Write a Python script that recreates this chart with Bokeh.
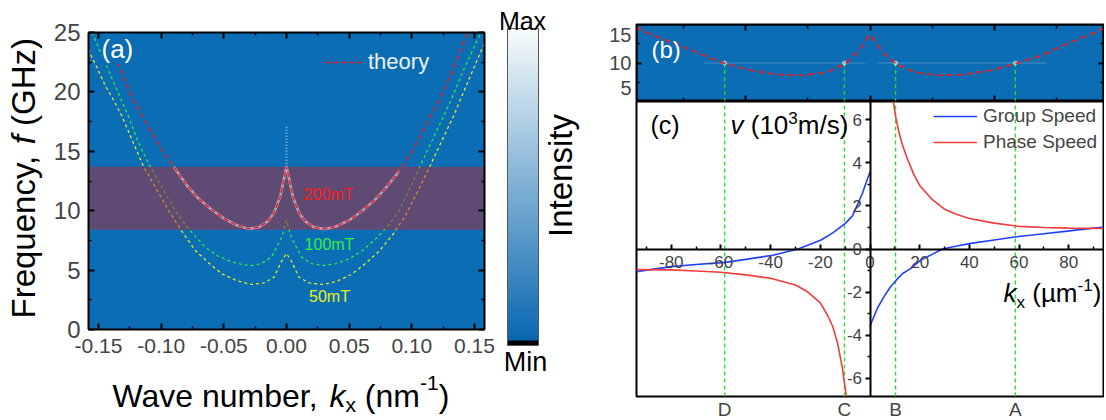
import numpy as np
from bokeh.plotting import figure
from bokeh.models import (Range1d, LinearAxis, FixedTicker, Label, Legend, LegendItem,
                          LinearColorMapper, PrintfTickFormatter)
from bokeh.layouts import row, column
from bokeh.embed import file_html
from bokeh.resources import INLINE
from bokeh.core.properties import value

# ---------------- data: panel (a) ----------------
k200 = [-0.1446, -0.140, -0.130, -0.120, -0.110, -0.100, -0.090, -0.080, -0.070, -0.060, -0.050,
        -0.040, -0.030, -0.022, -0.015, -0.010, -0.005, 0.0, 0.005, 0.010, 0.015, 0.022, 0.031,
        0.040, 0.050, 0.060, 0.070, 0.080, 0.090, 0.100, 0.110, 0.120, 0.130, 0.140, 0.1446]
f200 = [25.0, 23.8, 21.2, 18.9, 17.0, 15.2, 13.7, 12.2, 11.0, 10.1, 9.35,
        8.78, 8.47, 8.6, 9.1, 9.8, 11.2, 13.7, 11.2, 9.8, 9.1, 8.6, 8.45,
        8.7, 9.2, 9.95, 10.85, 12.0, 13.35, 14.9, 17.0, 18.9, 21.2, 23.8, 25.0]

k100 = [-0.1551, -0.147, -0.140, -0.133, -0.126, -0.118, -0.1087, -0.100, -0.0888, -0.080,
        -0.0649, -0.055, -0.045, -0.035, -0.0277, -0.020, -0.012, -0.0037, 0.0, 0.0037, 0.012,
        0.020, 0.0293, 0.040, 0.050, 0.060, 0.070, 0.080, 0.090, 0.098, 0.1063, 0.118, 0.130,
        0.142, 0.1551]
f100 = [25.0, 23.0, 21.3, 19.6, 17.9, 15.7, 13.7, 12.1, 10.0, 8.7,
        6.93, 6.2, 5.75, 5.45, 5.39, 5.55, 6.1, 7.77, 9.2, 7.77, 6.1,
        5.55, 5.39, 5.55, 5.95, 6.6, 7.5, 8.6, 10.0, 11.8, 13.7, 16.3, 19.0,
        22.0, 25.0]

k50 = [-0.158, -0.1566, -0.151, -0.145, -0.138, -0.131, -0.123, -0.114, -0.104, -0.094, -0.083,
       -0.0728, -0.062, -0.0516, -0.040, -0.0277, -0.018, -0.010, -0.0037, 0.0, 0.0037, 0.010,
       0.018, 0.0293, 0.040, 0.052, 0.063, 0.074, 0.085, 0.095, 0.105, 0.1143, 0.124, 0.133,
       0.145, 0.1555, 0.158]
f50 = [23.6, 23.2, 22.0, 20.6, 19.3, 17.9, 15.9, 13.7, 11.85, 10.0, 8.2,
       6.65, 5.6, 4.69, 4.12, 3.79, 3.92, 4.4, 5.8, 6.4, 5.8, 4.4,
       3.92, 3.79, 4.05, 4.65, 5.55, 6.6, 8.0, 9.6, 11.7, 13.7, 15.9, 17.9,
       20.9, 23.5, 24.1]

band_f = [8.4, 13.7]              # excitation band (GHz)
spike_k = [0.0, 0.0]
spike_f = [13.7, 17.2]
field_labels = ["200mT", "100mT", "50mT"]
field_label_k = [0.0335, 0.0343, 0.0343]
field_label_f = [11.36, 7.15, 2.78]
field_colors = ["#FF1A1A", "#33F040", "#EEEE22"]

a_xticks = [-0.15, -0.10, -0.05, 0.0, 0.05, 0.10, 0.15]
a_xminor = [-0.125, -0.075, -0.025, 0.025, 0.075, 0.125]
a_yticks = [0, 5, 10, 15, 20, 25]
a_yminor = [2.5, 7.5, 12.5, 17.5, 22.5]
a_xlim = (-0.158, 0.158)
a_ylim = (0, 25)

# ---------------- data: panel (b) ----------------
kb = [-94, -88, -80, -73, -66.8, -58.1, -48.1, -37.3, -26.6, -17.3, -9.9, -4.5, 0,
      5.7, 10.4, 17.8, 27.2, 37.9, 48.6, 58.6, 70, 80, 88, 94]
fb = [14.6, 13.7, 12.7, 11.8, 11.0, 9.9, 9.05, 8.5, 8.4, 8.8, 9.9, 11.6, 13.7,
      11.2, 9.9, 8.8, 8.4, 8.5, 9.05, 9.9, 11.1, 12.6, 13.6, 14.5]
meas_f = 10.0
meas_k0 = [-67, 3]
meas_k1 = [-2, 71]
cross_k = [-58.5, -10.3, 10.3, 58.5]
cross_labels = ["D", "C", "B", "A"]
b_ylim = (5, 15)
b_yticks = [5, 10, 15]
b_yminor = [7.5, 12.5]
b_label_pos = [6.7, 10, 13.7]      # where the tick texts sit (kept inside the strip)
b_label_text = ["5", "10", "15"]
b_xticks = [-50, 0, 50]
b_xminor = [-75, -25, 25, 75]
bc_xlim = (-94, 94)

# ---------------- data: panel (c) ----------------
kg_neg = [-94, -80, -70, -58.1, -50, -39.1, -29, -24.5, -19.7, -15, -9.9, -7, -4.9, -3, -1.5, 0]
vg_neg = [-1.05, -0.82, -0.72, -0.62, -0.48, -0.29, 0.0, 0.2, 0.42, 0.75, 1.19, 1.55, 2.1, 2.6, 3.1, 3.58]
kg_pos = [0, 1, 3, 5.7, 8, 10.4, 13, 16.5, 20.5, 25, 29.2, 35, 40.6, 50, 58.9, 70, 79.4, 94]
vg_pos = [-3.6, -3.3, -2.75, -2.2, -1.8, -1.47, -1.15, -0.9, -0.51, -0.25, 0.0, 0.14, 0.26, 0.42,
          0.57, 0.71, 0.83, 1.02]
kp_pos = [9.4, 10.4, 11.5, 13, 15, 17.5, 20, 25, 30, 35, 40, 50, 60, 70, 80, 94]
vp_pos = [6.85, 6.1, 5.5, 4.85, 4.2, 3.5, 2.95, 2.3, 1.85, 1.6, 1.42, 1.2, 1.05, 1.0, 0.97, 0.96]
kp_neg = [-94, -80, -70, -60, -50, -40, -30, -25, -20, -17, -15, -13, -12, -11, -10.2, -9.5]
vp_neg = [-0.96, -0.97, -1.02, -1.08, -1.2, -1.36, -1.67, -2.0, -2.5, -3.1, -3.6, -4.4, -5.0, -5.6,
          -6.3, -6.85]
c_ylim = (-6.85, 6.85)
c_yticks = [-6, -4, -2, 0, 2, 4, 6]
c_yminor = [-5, -3, -1, 1, 3, 5]
c_xticks = [-80, -60, -40, -20, 0, 20, 40, 60, 80]
c_xminor = [-90, -70, -50, -30, -10, 10, 30, 50, 70, 90]

# ---------------- style ----------------
FONT = "Liberation Sans"
BG = "#0B6DB3"
H = 418
BASE = 0.34     # label anchor sits ~0.34 em above the glyph baseline


def mix(c1, c2, t):
    a = [int(c1[i:i + 2], 16) for i in (1, 3, 5)]
    b = [int(c2[i:i + 2], 16) for i in (1, 3, 5)]
    return "#%02x%02x%02x" % tuple(int(round(a[j] + (b[j] - a[j]) * t)) for j in range(3))


def lab(p, text, x, y, size, color="black", style="normal", angle=0.0, align="left", bg=None):
    # (x, y): wanted baseline start, screen px from frame bottom-left
    if angle == 0.0:
        y = y + BASE * size
    else:
        x = x - BASE * size
    p.add_layout(Label(x=x, y=y, x_units="screen", y_units="screen", text=text,
                       text_font=FONT, text_font_size=f"{size}px", text_color=color,
                       text_font_style=style, angle=angle, text_align=align,
                       text_baseline="alphabetic", background_fill_color=bg))


def mk_axis(ticks, minor, tin=0, tout=0, min_in=0, min_out=0, size=None, standoff=5,
            fixed=None, fmt=None, bounds=None):
    kw = dict(ticker=FixedTicker(ticks=ticks, minor_ticks=minor),
              major_tick_in=tin, major_tick_out=tout, minor_tick_in=min_in, minor_tick_out=min_out,
              axis_line_width=2, major_tick_line_width=2, minor_tick_line_width=1.5,
              major_label_standoff=standoff, major_label_text_font=FONT)
    if size is None:
        kw["major_label_text_color"] = None
        kw["major_label_text_font_size"] = "0px"
        kw["major_label_standoff"] = 0
    else:
        kw["major_label_text_font_size"] = f"{size}px"
    if fixed is not None:
        kw["fixed_location"] = fixed
    if fmt is not None:
        kw["formatter"] = PrintfTickFormatter(format=fmt)
    if bounds is not None:
        kw["bounds"] = bounds
    return LinearAxis(**kw)


# ---------------- panel (a): whole canvas is the frame, plot box drawn inside ----------------
WA = 500
L, R, T, B = 88, 484, 32, 329          # plot box in canvas pixels
sx = (R - L) / (a_xlim[1] - a_xlim[0])
sy = (B - T) / (a_ylim[1] - a_ylim[0])
pa = figure(width=WA, height=H,
            x_range=Range1d(a_xlim[0] - L / sx, a_xlim[1] + (WA - R) / sx),
            y_range=Range1d(a_ylim[0] - (H - B) / sy, a_ylim[1] + T / sy),
            x_axis_type=None, y_axis_type=None, toolbar_location=None, output_backend="svg",
            min_border=0, outline_line_color=None)

pa.quad(left=a_xlim[0], right=a_xlim[1], bottom=a_ylim[0], top=a_ylim[1],
        fill_color=BG, line_color=None)
pa.line(k50, f50, color="#E8E82A", line_width=1.3, line_dash="3 3")
pa.line(k100, f100, color="#2EE84A", line_width=1.3, line_dash="3 3")
pa.quad(left=a_xlim[0], right=a_xlim[1], bottom=band_f[0], top=band_f[1],
        fill_color="#C31F26", fill_alpha=0.45, line_color=None)
in_k = [k for k, f in zip(k200, f200) if f <= band_f[1]]
in_f = [f for k, f in zip(k200, f200) if f <= band_f[1]]
pa.line(in_k, in_f, color="#FFE8EE", alpha=0.55, line_width=2.6)
pa.line(spike_k, spike_f, color="white", alpha=0.55, line_width=2, line_dash="1 2")
red_a = pa.line(k200, f200, color="#E8222A", line_width=1.5, line_dash="5 3")
pa.text(x=field_label_k, y=field_label_f, text=field_labels, text_color=field_colors,
        text_font=value(FONT), text_font_size=value("16px"), text_align="center",
        text_baseline="middle")

pa.add_layout(mk_axis(a_yticks, a_yminor, tin=6, min_in=3, size=24, standoff=8,
                      fixed=a_xlim[0], bounds=a_ylim), "left")
pa.add_layout(mk_axis(a_yticks, a_yminor, tin=6, min_in=3, fixed=a_xlim[1], bounds=a_ylim), "right")
pa.add_layout(mk_axis(a_xticks, a_xminor, tin=6, min_in=3, size=21, standoff=9, fmt="%.2f",
                      fixed=a_ylim[0], bounds=a_xlim), "below")
pa.add_layout(mk_axis(a_xticks, a_xminor, tin=6, min_in=3, fixed=a_ylim[1], bounds=a_xlim), "above")

leg_a = Legend(items=[LegendItem(label="theory", renderers=[red_a])], location=(325, H - 75),
               background_fill_alpha=0, border_line_alpha=0, label_text_color="#EAF2FA",
               label_text_font=FONT, label_text_font_size="22px", glyph_width=37,
               glyph_height=24, label_height=24, label_standoff=6, padding=0, margin=0)
pa.add_layout(leg_a)

lab(pa, "(a)", 101, H - 57, 26, color="white", bg=BG)
# y-axis title: Frequency, f (GHz)   (rotated, reading upwards)
s = 33 / 1000.0
y0 = H - 318
lab(pa, "Frequency,", 34, y0, 33, angle=np.pi / 2)
lab(pa, "f", 34, y0 + 5280 * s, 33, style="italic", angle=np.pi / 2)
lab(pa, "(GHz)", 34, y0 + (5280 + 556) * s, 33, angle=np.pi / 2)
# x-axis title: Wave number, k_x (nm^-1)
s = 32 / 1000.0
yb = H - 406
x0 = 112
lab(pa, "Wave number,", x0, yb, 32)
xk = x0 + 6780 * s
lab(pa, "k", xk, yb, 32, style="italic")
xs = xk + 500 * s
lab(pa, "x", xs, yb - 5, 21)
xn = xs + 500 * 0.021 + 278 * s
lab(pa, "(nm", xn, yb, 32)
xe = xn + 1722 * s
lab(pa, "-1", xe, yb + 16, 21)
lab(pa, ")", xe + 889 * 0.021, yb, 32)

# ---------------- colour bar (canvas-pixel coordinates) ----------------
WC = 95
pcb = figure(width=WC, height=H, x_range=Range1d(0, WC), y_range=Range1d(0, H),
             x_axis_type=None, y_axis_type=None, toolbar_location=None, output_backend="svg",
             min_border=0, outline_line_color=None)
ncol = 64
pal = ["#000000"] + [mix("#0B68B0", "#F5FAFA", i / (ncol - 2)) for i in range(ncol - 1)]
levels = np.linspace(0, 1, ncol).reshape(ncol, 1)
cb_x, cb_w, cb_y, cb_h = 7, 31, H - 345, 317
pcb.image(image=[levels], x=cb_x, y=cb_y, dw=cb_w, dh=cb_h,
          color_mapper=LinearColorMapper(palette=pal, low=0, high=1))
pcb.quad(left=cb_x, right=cb_x + cb_w, bottom=cb_y, top=cb_y + cb_h, fill_color=None,
         line_color="#555555", line_width=1)
lab(pcb, "Max", 22, H - 28.5, 25, align="center")
lab(pcb, "Min", 25, H - 371, 27, align="center")
lab(pcb, "Intensity", 71, H - 175, 33, angle=np.pi / 2, align="center")

# ---------------- panel (b) ----------------
xr = Range1d(*bc_xlim)
pb = figure(frame_width=467, frame_height=77, x_range=xr, y_range=Range1d(*b_ylim),
            x_axis_type=None, y_axis_type=None, toolbar_location=None, output_backend="svg",
            min_border_left=41, min_border_right=1, min_border_top=24, min_border_bottom=0,
            background_fill_color=BG, outline_line_color="black", outline_line_width=2)
pb.segment(x0=meas_k0, x1=meas_k1, y0=meas_f, y1=meas_f, color="white", alpha=0.12, line_width=2)
pb.segment(x0=cross_k, x1=cross_k, y0=meas_f, y1=b_ylim[0], color="#22E022", line_width=1.3,
           line_dash="4 3")
pb.scatter(cross_k, [meas_f] * len(cross_k), size=4, color="white", alpha=0.45)
pb.line(kb, fb, color="#E8222A", line_width=1.8, line_dash="6 4")
pb_labels = LinearAxis(ticker=FixedTicker(ticks=b_label_pos, minor_ticks=[]),
                       major_label_overrides={p_: t for p_, t in zip(b_label_pos, b_label_text)},
                       major_tick_in=0, major_tick_out=0, minor_tick_in=0, minor_tick_out=0,
                       axis_line_color=None, major_tick_line_color=None,
                       major_label_standoff=5, major_label_text_font=FONT,
                       major_label_text_font_size="20px")
pb.add_layout(pb_labels, "left")
pb.add_layout(mk_axis(b_yticks, b_yminor, tin=5, min_in=3, fixed=bc_xlim[0]), "left")
pb.add_layout(mk_axis(b_yticks, b_yminor, tin=5, min_in=3, fixed=bc_xlim[1]), "right")
pb.add_layout(mk_axis(b_xticks, b_xminor, tin=6, min_in=4, fixed=b_ylim[1]), "above")
pb.add_layout(mk_axis(b_xticks, b_xminor, tin=6, min_in=4, fixed=b_ylim[0]), "below")
lab(pb, "(b)", 15, 44, 24, color="white")

# ---------------- panel (c) ----------------
pc = figure(frame_width=467, frame_height=295, x_range=xr, y_range=Range1d(*c_ylim),
            x_axis_type=None, y_axis_type=None, toolbar_location=None, output_backend="svg",
            min_border_left=41, min_border_right=1, min_border_top=0, min_border_bottom=20,
            outline_line_color="black", outline_line_width=2)
pc.segment(x0=cross_k, x1=cross_k, y0=c_ylim[0], y1=c_ylim[1], color="#22E022", line_width=1.3,
           line_dash="4 3")
g1 = pc.line(kg_neg, vg_neg, color="#2040FF", line_width=1.6)
pc.line(kg_pos, vg_pos, color="#2040FF", line_width=1.6)
r1 = pc.line(kp_pos, vp_pos, color="#F03C3C", line_width=1.6)
pc.line(kp_neg, vp_neg, color="#F03C3C", line_width=1.6)
pc.add_layout(mk_axis(c_yticks, c_yminor, tout=5, min_out=3, size=17, standoff=3, fixed=0,
                      fmt="%d"), "left")
pc.add_layout(mk_axis(c_xticks, c_xminor, tin=5, min_in=3, size=17, standoff=7, fixed=0,
                      fmt="%d"), "below")
letters = LinearAxis(ticker=FixedTicker(ticks=cross_k, minor_ticks=[]),
                     major_label_overrides={k: t for k, t in zip(cross_k, cross_labels)},
                     major_tick_in=0, major_tick_out=0, minor_tick_in=0, minor_tick_out=0,
                     axis_line_color=None, major_tick_line_color=None,
                     major_label_standoff=2, major_label_text_font=FONT,
                     major_label_text_font_size="19px")
pc.add_layout(letters, "below")
leg_c = Legend(items=[LegendItem(label="Group Speed", renderers=[g1]),
                      LegendItem(label="Phase Speed", renderers=[r1])],
               location=(297, 243), background_fill_alpha=0, border_line_alpha=0,
               label_text_font=FONT, label_text_font_size="19px", glyph_width=44,
               glyph_height=22, label_height=22, spacing=4, label_standoff=6, padding=0, margin=0)
pc.add_layout(leg_c)
lab(pc, "(c)", 14, 263, 25)
s = 26 / 1000.0
vx = 94
lab(pc, "v", vx, 262.7, 26, style="italic")
xq = vx + 500 * s + 278 * s
lab(pc, "(10", xq, 262.7, 26)
xq2 = xq + 1445 * s
lab(pc, "3", xq2, 273, 17)
lab(pc, "m/s)", xq2 + 556 * 0.017, 262.7, 26)
kx0 = 367
lab(pc, "k", kx0, 94.3, 26, style="italic")
xs2 = kx0 + 500 * s
lab(pc, "x", xs2, 88.3, 17)
xm = xs2 + 500 * 0.017 + 278 * s
lab(pc, "(µm", xm, 94.3, 26)
xm2 = xm + 1742 * s
lab(pc, "-1", xm2, 106, 17)
lab(pc, ")", xm2 + 889 * 0.017, 94.3, 26)

layout = row(pa, pcb, column(pb, pc))
open("out.html", "w").write(file_html(layout, INLINE))
